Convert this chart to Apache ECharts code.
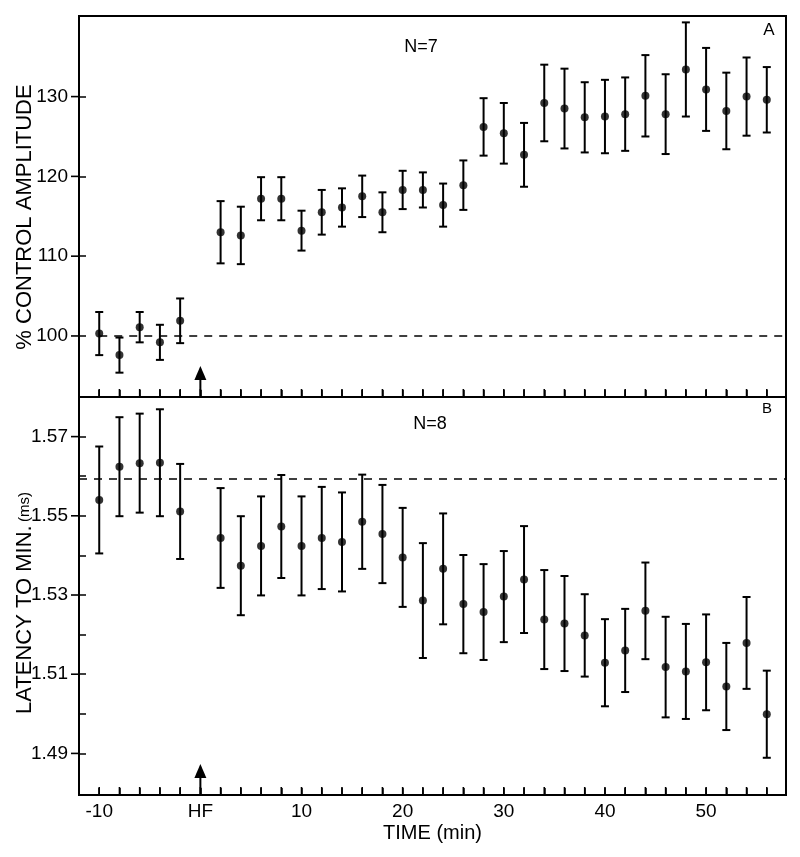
<!DOCTYPE html>
<html>
<head>
<meta charset="utf-8">
<script src="https://cdn.jsdelivr.net/npm/echarts@6/dist/echarts.min.js"></script>
<style>html,body{margin:0;padding:0;background:#fff}#c{width:800px;height:857px}</style>
</head>
<body>
<div id="c"></div>
<script>
const times = [-10,-8,-6,-4,-2,2,4,6,8,10,12,14,16,18,20,22,24,26,28,30,32,34,36,38,40,42,44,46,48,50,52,54,56];
const ampMean = [100.3,97.6,101.1,99.2,101.9,113.0,112.6,117.2,117.2,113.2,115.5,116.1,117.5,115.5,118.3,118.3,116.4,118.9,126.2,125.4,122.7,129.2,128.5,127.4,127.5,127.8,130.1,127.8,133.4,130.9,128.2,130.0,129.6];
const ampSem = [2.7,2.2,1.9,2.2,2.8,3.9,3.6,2.7,2.7,2.5,2.8,2.4,2.6,2.5,2.4,2.2,2.7,3.1,3.6,3.8,4.0,4.8,5.0,4.4,4.6,4.6,5.1,5.0,5.9,5.2,4.8,4.9,4.1];
const latMean = [1.5540,1.5624,1.5633,1.5634,1.5511,1.5444,1.5374,1.5424,1.5473,1.5424,1.5444,1.5434,1.5485,1.5454,1.5395,1.5286,1.5366,1.5277,1.5257,1.5296,1.5339,1.5238,1.5228,1.5198,1.5129,1.5160,1.5260,1.5118,1.5107,1.5130,1.5069,1.5179,1.4999];
const latSem = [0.0135,0.0125,0.0125,0.0135,0.0120,0.0126,0.0125,0.0125,0.0130,0.0125,0.0129,0.0125,0.0119,0.0124,0.0125,0.0145,0.0140,0.0124,0.0121,0.0115,0.0135,0.0125,0.0120,0.0104,0.0110,0.0105,0.0122,0.0127,0.0120,0.0121,0.0110,0.0116,0.0110];
const xTickValues = [-10,-8,-6,-4,-2,0,2,4,6,8,10,12,14,16,18,20,22,24,26,28,30,32,34,36,38,40,42,44,46,48,50,52,54,56];
const xLabelValues = [-10,0,10,20,30,40,50];
const ampTickValues = [100,110,120,130];
const latTickValues = [1.49,1.50,1.51,1.52,1.53,1.54,1.55,1.56,1.57];
const latLabelValues = [1.49,1.51,1.53,1.55,1.57];
const ampBaseline = 100;
const latBaseline = 1.5593;
const arrowTimes = [0];

const X_MIN = -12, X_MAX = 57.9, X_STEP = 2;
const A_MIN = 92.35, A_MAX = 140.1;
const B_MIN = 1.4795, B_MAX = 1.58;
const FONT = 'Liberation Sans';

function errData(m, s) { return times.map((t, i) => [t, m[i] - s[i], m[i] + s[i]]); }
function ptData(m) { return times.map((t, i) => [t, m[i]]); }

function errRender(params, api) {
  const x = api.value(0), lo = api.value(1), hi = api.value(2);
  const top = api.coord([x, hi]), bot = api.coord([x, lo]);
  const w = 4;
  const st = { stroke: '#000', lineWidth: 2 };
  return { type: 'group', children: [
    { type: 'line', shape: { x1: top[0], y1: top[1], x2: bot[0], y2: bot[1] }, style: st },
    { type: 'line', shape: { x1: top[0] - w, y1: top[1], x2: top[0] + w, y2: top[1] }, style: st },
    { type: 'line', shape: { x1: bot[0] - w, y1: bot[1], x2: bot[0] + w, y2: bot[1] }, style: st }
  ]};
}
function arrowRender(params, api) {
  const cs = params.coordSys;
  const p = api.coord([api.value(0), api.value(1)]);
  const bx = p[0], by = cs.y + cs.height;
  return { type: 'group', children: [
    { type: 'line', shape: { x1: bx, y1: by, x2: bx, y2: by - 18 }, style: { stroke: '#000', lineWidth: 2 } },
    { type: 'polygon', shape: { points: [[bx, by - 31], [bx - 6, by - 17], [bx + 6, by - 17]] }, style: { fill: '#000' } }
  ]};
}
// inward time ticks along the bottom edge of each panel, placed through the x scale
function xTickRender(params, api) {
  const cs = params.coordSys;
  const p = api.coord([api.value(0), api.value(1)]);
  const by = cs.y + cs.height;
  return { type: 'group', children: [
    { type: 'line', shape: { x1: p[0], y1: by - 1, x2: p[0], y2: by - 8 }, style: { stroke: '#000', lineWidth: 1.6 } }
  ]};
}
// outward ticks at the labelled y values, placed through the y scale
function yTickRender(params, api) {
  const cs = params.coordSys;
  const p = api.coord([api.value(0), api.value(1)]);
  return { type: 'group', children: [
    { type: 'line', shape: { x1: cs.x - 8, y1: p[1], x2: cs.x, y2: p[1] }, style: { stroke: '#000', lineWidth: 1.6 } }
  ]};
}

function xAxis(gi, showLabels) {
  return {
    type: 'value', gridIndex: gi, min: X_MIN, max: X_MAX, interval: X_STEP, position: 'bottom',
    axisLine: { show: true, onZero: false, lineStyle: { color: '#000', width: 2 } },
    axisTick: { show: true, inside: true, length: 7, lineStyle: { color: '#000', width: 1.5 } },
    axisLabel: { show: showLabels, margin: 7, color: '#000', fontSize: 19, fontFamily: FONT,
      formatter: v => (xLabelValues.indexOf(v) < 0 ? '' : (v === 0 ? 'HF' : String(v))) },
    splitLine: { show: false },
    name: showLabels ? 'TIME (min)' : '', nameLocation: 'middle', nameGap: 28,
    nameTextStyle: { color: '#000', fontSize: 20, fontFamily: FONT }
  };
}
function yMain(gi, min, max, ticks, labels, fmt) {
  return {
    type: 'value', gridIndex: gi, min: min, max: max, position: 'left',
    axisLine: { show: true, onZero: false, lineStyle: { color: '#000', width: 2 } },
    axisTick: { show: true, inside: true, length: 7, customValues: ticks, lineStyle: { color: '#000', width: 1.5 } },
    axisLabel: { show: true, customValues: labels, margin: 11, color: '#000', fontSize: 19, fontFamily: FONT, formatter: fmt },
    splitLine: { show: false }
  };
}

const chart = echarts.init(document.getElementById('c'), null, { renderer: 'canvas' });
chart.setOption({
  backgroundColor: '#fff',
  animation: false,
  grid: [
    { left: 79, right: 14, top: 16, height: 381, show: true, borderColor: '#000', borderWidth: 2 },
    { left: 79, right: 14, top: 397, height: 398, show: true, borderColor: '#000', borderWidth: 2 }
  ],
  xAxis: [xAxis(0, false), xAxis(1, true)],
  yAxis: [
    yMain(0, A_MIN, A_MAX, ampTickValues, ampTickValues, v => String(Math.round(v))),
    yMain(1, B_MIN, B_MAX, latTickValues, latLabelValues, v => v.toFixed(2))
  ],
  graphic: [
    { type: 'text', x: 25, y: 217, rotation: Math.PI / 2,
      style: { text: '% CONTROL AMPLITUDE', font: '22px ' + FONT, fill: '#000', align: 'center', verticalAlign: 'middle' } },
    { type: 'text', x: 25, y: 603, rotation: Math.PI / 2,
      style: { text: '{a|LATENCY TO MIN.} {b|(ms)}', fill: '#000', align: 'center', verticalAlign: 'middle',
        rich: { a: { fontSize: 22, fontFamily: FONT, fill: '#000' }, b: { fontSize: 15, fontFamily: FONT, fill: '#000' } } } },
    { type: 'text', x: 421, y: 47, style: { text: 'N=7', font: '18px ' + FONT, fill: '#000', align: 'center', verticalAlign: 'middle' } },
    { type: 'text', x: 769, y: 30, style: { text: 'A', font: '17px ' + FONT, fill: '#000', align: 'center', verticalAlign: 'middle' } },
    { type: 'text', x: 430, y: 424, style: { text: 'N=8', font: '18px ' + FONT, fill: '#000', align: 'center', verticalAlign: 'middle' } },
    { type: 'text', x: 767, y: 409, style: { text: 'B', font: '15px ' + FONT, fill: '#000', align: 'center', verticalAlign: 'middle' } }
  ],
  series: [
    { type: 'custom', xAxisIndex: 0, yAxisIndex: 0, renderItem: errRender, data: errData(ampMean, ampSem), silent: true, z: 3 },
    { type: 'scatter', xAxisIndex: 0, yAxisIndex: 0, data: ptData(ampMean), symbolSize: 8, itemStyle: { color: '#000' }, z: 4,
      markLine: { silent: true, symbol: 'none', label: { show: false },
        lineStyle: { color: '#000', width: 1.5, type: [8, 7] },
        data: [[{ coord: [-10, ampBaseline] }, { coord: [X_MAX, ampBaseline] }]] } },
    { type: 'custom', xAxisIndex: 0, yAxisIndex: 0, renderItem: arrowRender, data: arrowTimes.map(t => [t, A_MIN]), silent: true, z: 5 },
    { type: 'custom', xAxisIndex: 0, yAxisIndex: 0, renderItem: xTickRender, data: xTickValues.map(t => [t, A_MIN + 1]), silent: true, clip: false, z: 10 },
    { type: 'custom', xAxisIndex: 0, yAxisIndex: 0, renderItem: yTickRender, data: ampTickValues.map(v => [X_MIN + 1, v]), silent: true, clip: false, z: 10 },
    { type: 'custom', xAxisIndex: 1, yAxisIndex: 1, renderItem: errRender, data: errData(latMean, latSem), silent: true, z: 3 },
    { type: 'scatter', xAxisIndex: 1, yAxisIndex: 1, data: ptData(latMean), symbolSize: 8, itemStyle: { color: '#000' }, z: 4,
      markLine: { silent: true, symbol: 'none', label: { show: false },
        lineStyle: { color: '#000', width: 1.5, type: [8, 7] },
        data: [[{ coord: [X_MIN, latBaseline] }, { coord: [X_MAX, latBaseline] }]] } },
    { type: 'custom', xAxisIndex: 1, yAxisIndex: 1, renderItem: arrowRender, data: arrowTimes.map(t => [t, B_MIN]), silent: true, z: 5 },
    { type: 'custom', xAxisIndex: 1, yAxisIndex: 1, renderItem: xTickRender, data: xTickValues.map(t => [t, B_MIN + 0.001]), silent: true, clip: false, z: 10 },
    { type: 'custom', xAxisIndex: 1, yAxisIndex: 1, renderItem: yTickRender, data: latLabelValues.map(v => [X_MIN + 1, v]), silent: true, clip: false, z: 10 }
  ]
});
</script>
</body>
</html>
